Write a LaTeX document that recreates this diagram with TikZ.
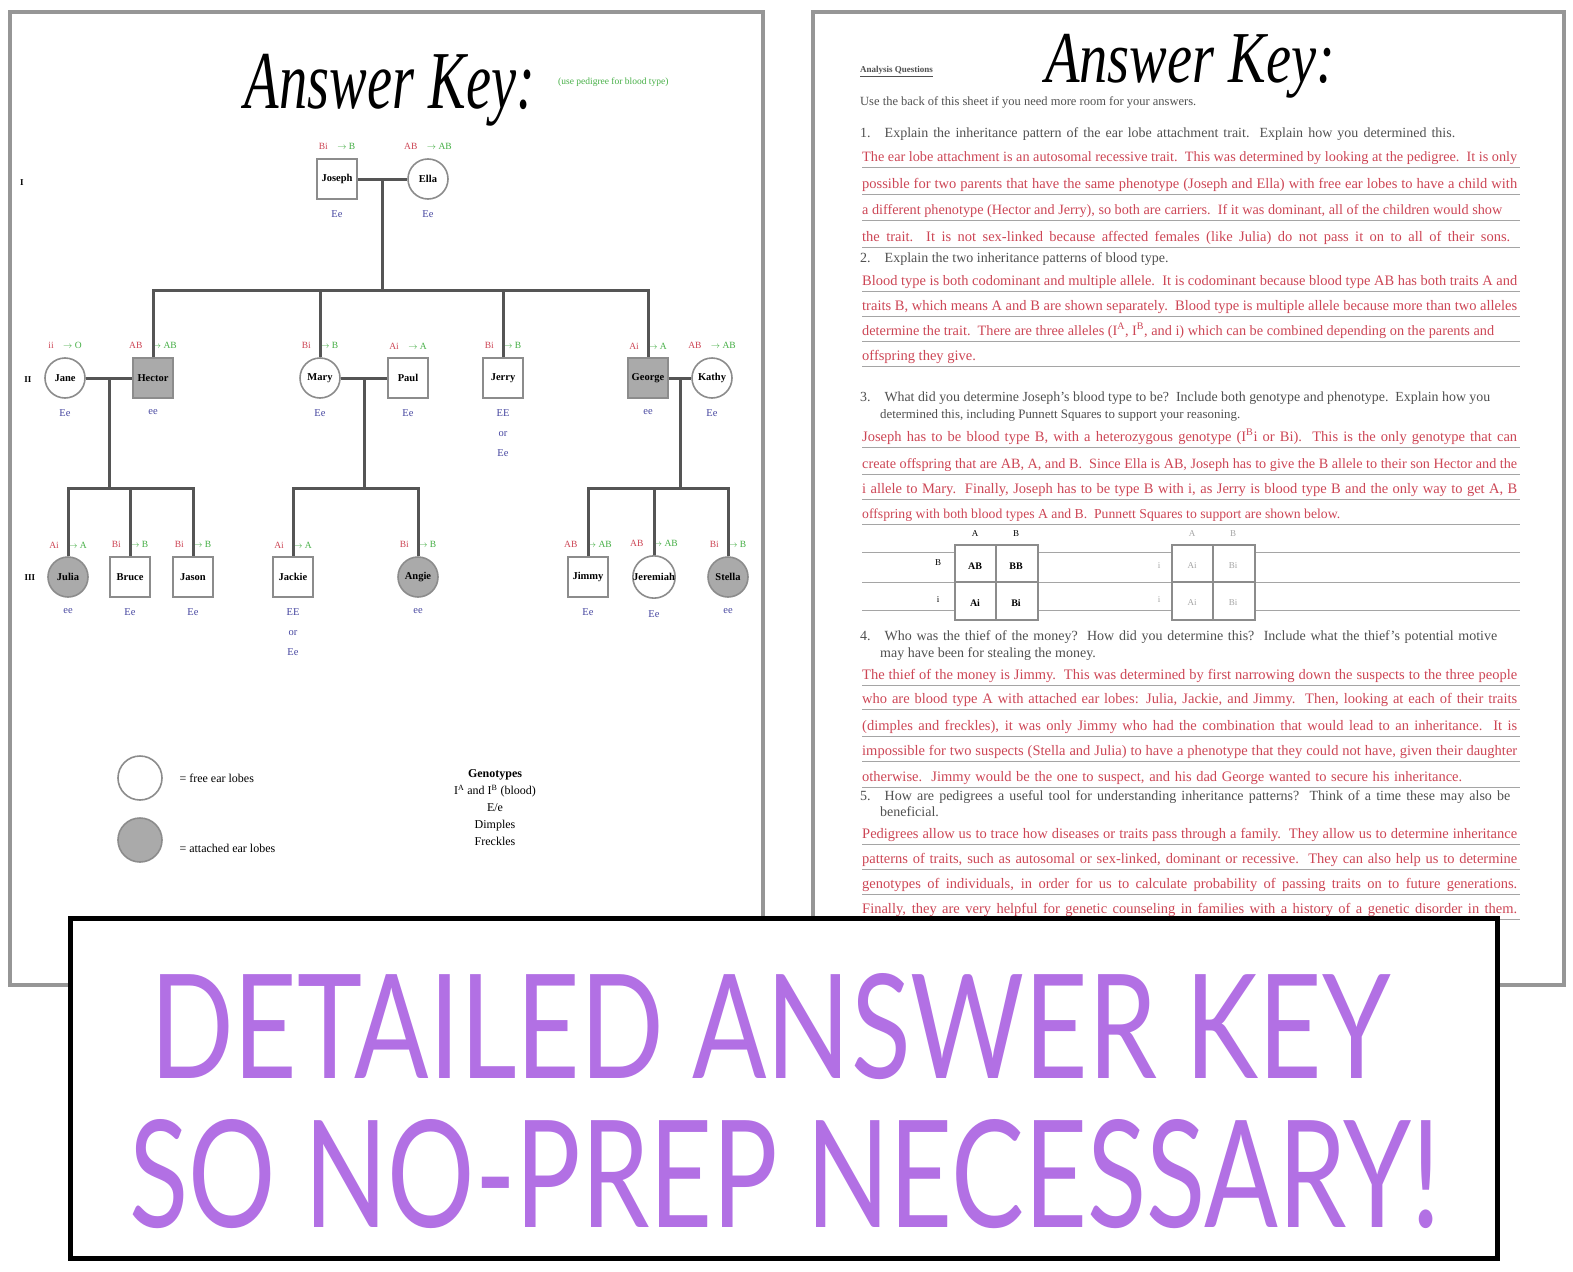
\documentclass[tikz,border=0pt]{standalone}
\usepackage{fontspec}
\setmainfont{Liberation Serif}
\newfontfamily\bannerfont{Lato}
\usetikzlibrary{calc,positioning}

\definecolor{pagegray}{RGB}{150,150,150}
\definecolor{linegray}{RGB}{85,85,85}
\definecolor{symgray}{RGB}{140,140,140}
\definecolor{shade}{RGB}{170,170,170}
\definecolor{redtxt}{RGB}{205,70,85}
\definecolor{grntxt}{RGB}{70,175,70}
\definecolor{bluetxt}{RGB}{70,70,160}
\definecolor{qgray}{RGB}{80,80,80}
\definecolor{rulegray}{RGB}{165,165,165}
\definecolor{bannerpurple}{RGB}{178,112,228}

\tikzset{
  conn/.style={draw=linegray, line width=3pt},
  male/.style={rectangle, draw=symgray, line width=1.6pt, fill=white, minimum size=40pt, inner sep=0pt, font=\fontsize{10.5}{11}\selectfont\bfseries},
  female/.style={male, circle},
  affected/.style={fill=shade},
  geno/.style={font=\fontsize{9.5}{10}\selectfont, inner sep=1pt},
  pheno/.style={font=\fontsize{10.5}{20}\selectfont, text=bluetxt, align=center, inner sep=1pt},
  pageframe/.style={draw=pagegray, line width=4pt, fill=white},
  rulestyle/.style={draw=rulegray, line width=1pt},
  answer/.style={anchor=base west, inner sep=0pt, text=redtxt, font=\fontsize{14.5}{15}\selectfont},
  question/.style={anchor=base west, inner sep=0pt, text=qgray, font=\fontsize{14}{15}\selectfont},
  punnett/.style={draw=symgray, line width=1.2pt, fill=white},
  legendtext/.style={anchor=west, font=\fontsize{12}{13}\selectfont},
  punlabel/.style={font=\fontsize{9}{10}\selectfont},
}

% a line of text set to a given width: spread when short, shrunk when long
\newlength\linelen
\newcommand{\fitline}[2]{%
  \settowidth{\linelen}{#2}%
  \ifdim\linelen>#1pt\resizebox{#1pt}{!}{#2}\else\makebox[#1pt][s]{#2}\fi}
% one person of the pedigree: name, style, position, text, red, green, phenotype
\newcommand{\person}[7]{%
  \node[#2] (#1) at (#3) {#4};
  \node[geno, above=7pt of #1] (#1-g) {\textcolor{redtxt}{#5}\quad\textcolor{grntxt}{#6}};
  \node[pheno, anchor=north] (#1-p) at ($(#1.south)+(0,10)$) {#7};}
% answer line with its rule
\newcommand{\ansline}[4]{%
  \draw[rulestyle] (862,#2+6) -- (1520,#2+6);
  \node[answer] (#1) at (862,#2) {\fitline{#3}{#4}};}
\newcommand{\qline}[4]{%
  \node[question] (#1) at (#2) {\fitline{#3}{#4}};}

\begin{document}
\begin{tikzpicture}[x=1pt,y=-1pt]
\useasboundingbox (0,0) rectangle (1573,1271);
\fill[white] (0,0) rectangle (1573,1271);

%pages
\draw[pageframe] (10,12) rectangle (763,985);
\draw[pageframe] (813,12) rectangle (1564,985);

%titles
\node[inner sep=0pt] (title1) at (390,90) {\resizebox*{290pt}{72pt}{\itshape Answer Key:}};
\node[anchor=west, inner sep=0pt, text=grntxt, font=\fontsize{9.5}{10}\selectfont] (note1) at (558,82) {(use pedigree for blood type)};
\node[inner sep=0pt] (title2) at (1190,66) {\resizebox*{290pt}{64pt}{\itshape Answer Key:}};

%generations
\node[font=\fontsize{9}{10}\selectfont\bfseries] (gen1) at (22,183) {I};
\node[font=\fontsize{9}{10}\selectfont\bfseries] (gen2) at (28,380) {II};
\node[font=\fontsize{9}{10}\selectfont\bfseries] (gen3) at (30,578) {III};

%generation I
\person{joseph}{male}{337,179}{Joseph}{Bi}{$\rightarrow$ B}{Ee}
\person{ella}{female}{428,179}{Ella}{AB}{$\rightarrow$ AB}{Ee}
%generation II
\person{jane}{female}{65,378}{Jane}{ii}{$\rightarrow$ O}{Ee}
\person{hector}{male,affected}{153,378}{Hector}{AB}{$\rightarrow$ AB}{ee}
\person{mary}{female}{320,378}{Mary}{Bi}{$\rightarrow$ B}{Ee}
\person{paul}{male}{408,378}{Paul}{Ai}{$\rightarrow$ A}{Ee}
\person{jerry}{male}{503,378}{Jerry}{Bi}{$\rightarrow$ B}{EE\\or\\Ee}
\person{george}{male,affected}{648,378}{George}{Ai}{$\rightarrow$ A}{ee}
\person{kathy}{female}{712,378}{Kathy}{AB}{$\rightarrow$ AB}{Ee}
%generation III
\person{julia}{female,affected}{68,577}{Julia}{Ai}{$\rightarrow$ A}{ee}
\person{bruce}{male}{130,577}{Bruce}{Bi}{$\rightarrow$ B}{Ee}
\person{jason}{male}{193,577}{Jason}{Bi}{$\rightarrow$ B}{Ee}
\person{jackie}{male}{293,577}{Jackie}{Ai}{$\rightarrow$ A}{EE\\or\\Ee}
\person{angie}{female,affected}{418,577}{Angie}{Bi}{$\rightarrow$ B}{ee}
\person{jimmy}{male}{588,577}{Jimmy}{AB}{$\rightarrow$ AB}{Ee}
\person{jeremiah}{female}{654,577}{Jeremiah}{AB}{$\rightarrow$ AB}{Ee}
\person{stella}{female,affected}{728,577}{Stella}{Bi}{$\rightarrow$ B}{ee}

%connectors
\coordinate (m1) at ($(joseph.east)!0.5!(ella.west)$);
\coordinate (s1) at ($(m1)+(0,111)$);
\draw[conn] (joseph) -- (ella);
\draw[conn] (m1) -- (s1);
\draw[conn] (hector.north) |- (s1) -| (george.north);
\draw[conn] (mary.north) -- (mary.north |- s1);
\draw[conn] (jerry.north) -- (jerry.north |- s1);

\coordinate (m2) at ($(jane.east)!0.5!(hector.west)$);
\coordinate (s2) at ($(m2)+(0,110)$);
\draw[conn] (jane) -- (hector);
\draw[conn] (m2) -- (s2);
\draw[conn] (julia.north) |- (s2) -| (jason.north);
\draw[conn] (bruce.north) -- (bruce.north |- s2);

\coordinate (m3) at ($(mary.east)!0.5!(paul.west)$);
\coordinate (s3) at ($(m3)+(0,110)$);
\draw[conn] (mary) -- (paul);
\draw[conn] (m3) -- (s3);
\draw[conn] (jackie.north) |- (s3) -| (angie.north);

\coordinate (m4) at ($(george.east)!0.5!(kathy.west)$);
\coordinate (s4) at ($(m4)+(0,110)$);
\draw[conn] (george) -- (kathy);
\draw[conn] (m4) -- (s4);
\draw[conn] (jimmy.north) |- (s4) -| (stella.north);
\draw[conn] (jeremiah.north) -- (jeremiah.north |- s4);

%legend
\node[female, minimum size=44pt] (leg1) at (140,778) {};
\node[legendtext] (leg1-t) at (176,778) {= free ear lobes};
\node[female, affected, minimum size=44pt] (leg2) at (140,840) {};
\node[legendtext] (leg2-t) at (176,848) {= attached ear lobes};
\node[align=center, font=\fontsize{12}{17}\selectfont] (key) at (495,808) {\textbf{Genotypes}\\I\textsuperscript{A} and I\textsuperscript{B} (blood)\\E/e\\Dimples\\Freckles};

%right page
\node[anchor=base west, inner sep=0pt, font=\fontsize{9}{10}\selectfont\bfseries, text=qgray] (head) at (860,73) {\underline{Analysis Questions}};
\node[anchor=base west, inner sep=0pt, text=qgray, font=\fontsize{12.5}{13}\selectfont] (intro) at (860,106) {Use the back of this sheet if you need more room for your answers.};

%question 1
\qline{q1}{860,137}{595}{1.\quad Explain the inheritance pattern of the ear lobe attachment trait.\ \ Explain how you determined this.}
\ansline{a11}{161}{655}{The ear lobe attachment is an autosomal recessive trait.\ \ This was determined by looking at the pedigree.\ \ It is only}
\ansline{a12}{188}{655}{possible for two parents that have the same phenotype (Joseph and Ella) with free ear lobes to have a child with}
\ansline{a13}{214}{640}{a different phenotype (Hector and Jerry), so both are carriers.\ \ If it was dominant, all of the children would show}
\ansline{a14}{241}{648}{the trait.\ \ It is not sex-linked because affected females (like Julia) do not pass it on to all of their sons.}
%question 2
\node[question] (q2) at (860,262) {2.\quad Explain the two inheritance patterns of blood type.};
\ansline{a21}{285}{655}{Blood type is both codominant and multiple allele.\ \ It is codominant because blood type AB has both traits A and}
\ansline{a22}{310}{655}{traits B, which means A and B are shown separately.\ \ Blood type is multiple allele because more than two alleles}
\ansline{a23}{335}{632}{determine the trait.\ \ There are three alleles (I\textsuperscript{A}, I\textsuperscript{B}, and i) which can be combined depending on the parents and}
\node[answer] (a24) at (862,360) {offspring they give.};
\draw[rulestyle] (862,366) -- (1520,366);
%question 3
\qline{q3a}{860,401}{630}{3.\quad What did you determine Joseph's blood type to be?\ \ Include both genotype and phenotype.\ \ Explain how you}
\qline{q3b}{880,418}{360}{determined this, including Punnett Squares to support your reasoning.}
\ansline{a31}{441}{655}{Joseph has to be blood type B, with a heterozygous genotype (I\textsuperscript{B}i or Bi).\ \ This is the only genotype that can}
\ansline{a32}{468}{655}{create offspring that are AB, A, and B.\ \ Since Ella is AB, Joseph has to give the B allele to their son Hector and the}
\ansline{a33}{493}{655}{i allele to Mary.\ \ Finally, Joseph has to be type B with i, as Jerry is blood type B and the only way to get A, B}
\ansline{a34}{518}{478}{offspring with both blood types A and B.\ \ Punnett Squares to support are shown below.}
%punnett squares
\draw[rulestyle] (862,552) -- (1520,552);
\draw[rulestyle] (862,582) -- (1520,582);
\draw[rulestyle] (862,610) -- (1520,610);
\draw[punnett] (955,545) rectangle (1038,620);
\draw[punnett] (996,545) -- (996,620) (955,582) -- (1038,582);
\draw[punnett] (1172,545) rectangle (1255,620);
\draw[punnett] (1213,545) -- (1213,620) (1172,582) -- (1255,582);
\node[punlabel] (pa1) at (975,534) {A};
\node[punlabel] (pa2) at (1016,534) {B};
\node[punlabel] (pa3) at (938,563) {B};
\node[punlabel] (pa4) at (938,600) {i};
\node[punlabel, font=\bfseries] (pc1) at (975,566) {AB};
\node[punlabel, font=\bfseries] (pc2) at (1016,566) {BB};
\node[punlabel, font=\bfseries] (pc3) at (975,603) {Ai};
\node[punlabel, font=\bfseries] (pc4) at (1016,603) {Bi};
\node[punlabel, text=rulegray] (pb1) at (1192,534) {A};
\node[punlabel, text=rulegray] (pb2) at (1233,534) {B};
\node[punlabel, text=rulegray] (pb3) at (1159,566) {i};
\node[punlabel, text=rulegray] (pb4) at (1159,600) {i};
\node[punlabel, text=rulegray] (pd1) at (1192,566) {Ai};
\node[punlabel, text=rulegray] (pd2) at (1233,566) {Bi};
\node[punlabel, text=rulegray] (pd3) at (1192,603) {Ai};
\node[punlabel, text=rulegray] (pd4) at (1233,603) {Bi};
%question 4
\qline{q4a}{860,640}{637}{4.\quad Who was the thief of the money?\ \ How did you determine this?\ \ Include what the thief's potential motive}
\node[question] (q4b) at (880,657) {may have been for stealing the money.};
\ansline{a41}{679}{655}{The thief of the money is Jimmy.\ \ This was determined by first narrowing down the suspects to the three people}
\ansline{a42}{703}{655}{who are blood type A with attached ear lobes: Julia, Jackie, and Jimmy.\ \ Then, looking at each of their traits}
\ansline{a43}{730}{655}{(dimples and freckles), it was only Jimmy who had the combination that would lead to an inheritance.\ \ It is}
\ansline{a44}{755}{655}{impossible for two suspects (Stella and Julia) to have a phenotype that they could not have, given their daughter}
\ansline{a45}{781}{600}{otherwise.\ \ Jimmy would be the one to suspect, and his dad George wanted to secure his inheritance.}
%question 5
\qline{q5a}{860,800}{650}{5.\quad How are pedigrees a useful tool for understanding inheritance patterns?\ \ Think of a time these may also be}
\node[question] (q5b) at (880,816) {beneficial.};
\ansline{a51}{838}{655}{Pedigrees allow us to trace how diseases or traits pass through a family.\ \ They allow us to determine inheritance}
\ansline{a52}{863}{655}{patterns of traits, such as autosomal or sex-linked, dominant or recessive.\ \ They can also help us to determine}
\ansline{a53}{888}{655}{genotypes of individuals, in order for us to calculate probability of passing traits on to future generations.}
\ansline{a54}{913}{655}{Finally, they are very helpful for genetic counseling in families with a history of a genetic disorder in them.}

%banner
\draw[line width=5pt, fill=white] (70,918) rectangle (1497,1258);
\node[inner sep=0pt, text=bannerpurple] (banner1) at (770,1027) {\resizebox{1240pt}{105pt}{\bannerfont DETAILED ANSWER KEY}};
\node[inner sep=0pt, text=bannerpurple] (banner2) at (785,1174) {\resizebox{1310pt}{108pt}{\bannerfont SO NO-PREP NECESSARY!}};
\end{tikzpicture}
\end{document}
